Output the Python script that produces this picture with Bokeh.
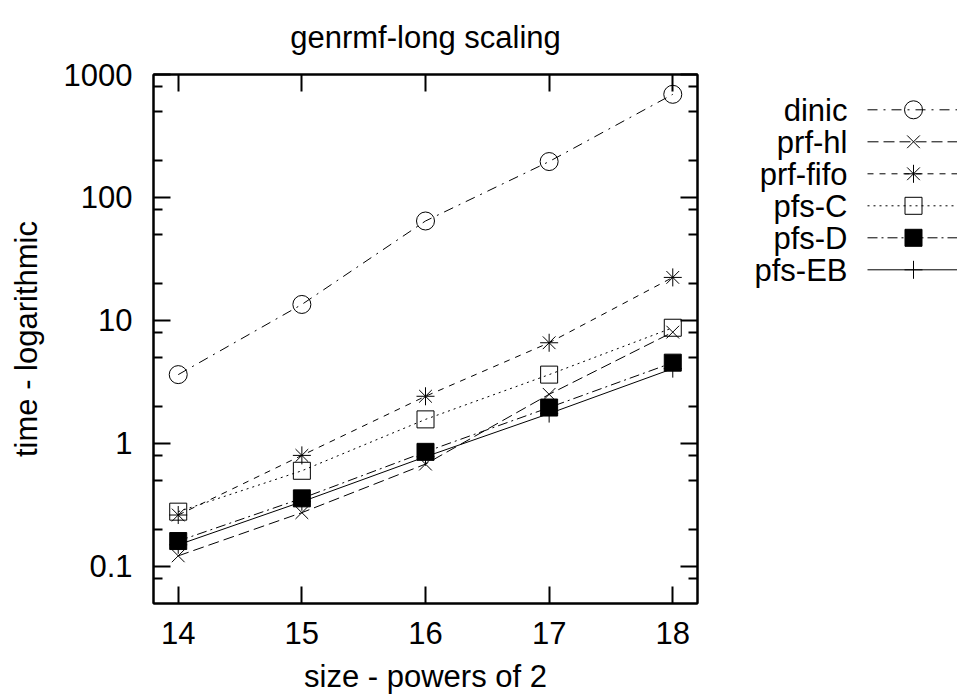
from bokeh.plotting import figure
from bokeh.models import Range1d, LogAxis, LinearAxis, FixedTicker, ColumnDataSource
from bokeh.layouts import row
from bokeh.core.properties import value
from bokeh.embed import file_html
from bokeh.resources import INLINE

# ---- data ----
sizes = [14, 15, 16, 17, 18]
dinic = [3.63, 13.5, 64.4, 196, 690]
prf_hl = [0.122, 0.274, 0.68, 2.51, 8.04]
prf_fifo = [0.262, 0.80, 2.42, 6.59, 22.4]
pfs_c = [0.279, 0.60, 1.57, 3.63, 8.73]
pfs_d = [0.161, 0.358, 0.855, 1.96, 4.54]
pfs_eb = [0.150, 0.336, 0.78, 1.75, 4.06]

series_names = ["dinic", "prf-hl", "prf-fifo", "pfs-C", "pfs-D", "pfs-EB"]
series_values = [dinic, prf_hl, prf_fifo, pfs_c, pfs_d, pfs_eb]

x_ticks = [14, 15, 16, 17, 18]
y_ticks = [0.1, 1, 10, 100, 1000]
y_tick_labels = ["0.1", "1", "10", "100", "1000"]
y_minor = [0.08, 0.2, 0.5, 0.8, 2, 5, 8, 20, 50, 80, 200, 500, 800]

title_text = "genrmf-long scaling"
x_label = "size - powers of 2"
y_label = "time - logarithmic"

# ---- styles ----
FONT = "Liberation Sans"
FS = "31px"
styles = [
    dict(dash="10 6 2 6", marker="circle", fill=None, size=18),
    dict(dash="11 5", marker="x", fill=None, size=18),
    dict(dash="6 6", marker="asterisk", fill=None, size=18),
    dict(dash="2 4", marker="square", fill=None, size=17),
    dict(dash="10 4 2 4", marker="square", fill="black", size=17),
    dict(dash="solid", marker="cross", fill=None, size=18),
]

TOP, BOTTOM, LEFT = 74, 96, 153

p = figure(width=720, height=699, y_axis_type="log",
           x_range=Range1d(13.8, 18.2), y_range=Range1d(0.05, 1000),
           output_backend="svg", toolbar_location=None,
           min_border_left=LEFT, min_border_right=23,
           min_border_top=TOP, min_border_bottom=BOTTOM)
p.background_fill_color = "white"
p.border_fill_color = "white"
p.grid.visible = False
p.outline_line_color = "black"
p.outline_line_width = 2

p.title.text = title_text
p.title.align = "center"
p.title.vertical_align = "top"
p.title.text_font = FONT
p.title.text_font_size = FS
p.title.text_font_style = "normal"
p.title.text_color = "black"
p.title.standoff = 36

yt = FixedTicker(ticks=y_ticks, minor_ticks=y_minor)
xt = FixedTicker(ticks=x_ticks, minor_ticks=[])
overrides = {t: l for t, l in zip(y_ticks, y_tick_labels)}

def style_axis(ax, labels=True):
    ax.axis_line_width = 2
    ax.axis_line_color = "black"
    ax.major_tick_in = 17
    ax.major_tick_out = 0
    ax.minor_tick_in = 9
    ax.minor_tick_out = 0
    ax.major_tick_line_width = 2
    ax.minor_tick_line_width = 2
    ax.major_label_text_font = FONT
    ax.major_label_text_font_size = FS if labels else "4px"
    ax.major_label_text_color = "black"
    if not labels:
        ax.major_label_text_alpha = 0
    ax.axis_label_text_font = FONT
    ax.axis_label_text_font_size = FS
    ax.axis_label_text_font_style = "normal"
    ax.axis_label_text_color = "black"

xa = p.xaxis[0]
xa.ticker = xt
style_axis(xa)
xa.major_label_standoff = 18
xa.axis_label = x_label
xa.axis_label_standoff = 12

ya = p.yaxis[0]
ya.ticker = yt
ya.major_label_overrides = overrides
style_axis(ya)
ya.major_label_standoff = 21
ya.axis_label = y_label
ya.axis_label_standoff = 17

ra = LogAxis(ticker=yt)
style_axis(ra, labels=False)
ra.major_label_standoff = 0
p.add_layout(ra, "right")

ta = LinearAxis(ticker=xt)
style_axis(ta, labels=False)
ta.major_label_standoff = 0
p.add_layout(ta, "above")

for vals, st in zip(series_values, styles):
    src = ColumnDataSource(dict(x=sizes, y=vals))
    p.line("x", "y", source=src, line_color="black", line_width=1, line_dash=st["dash"])
    p.scatter("x", "y", source=src, marker=st["marker"], size=st["size"],
              line_color="black", line_width=1,
              fill_color=st["fill"] if st["fill"] else None)

# ---- legend panel (text left of sample, as in reference); ranges in page pixels ----
leg = figure(width=237, height=699, x_range=Range1d(720, 957),
             y_range=Range1d(699 - BOTTOM, TOP),
             output_backend="svg", toolbar_location=None,
             x_axis_location=None, y_axis_location=None,
             min_border_left=0, min_border_right=0,
             min_border_top=TOP, min_border_bottom=BOTTOM)
leg.outline_line_color = None
leg.grid.visible = False
leg.background_fill_color = "white"
leg.border_fill_color = "white"

row0, row_gap = 109.3, 32.0
for i, (name, st) in enumerate(zip(series_names, styles)):
    yy = row0 + i * row_gap
    leg.text(x=[847], y=[yy + 1], text=[name], text_align="right", text_baseline="middle",
             text_font=value(FONT), text_font_size=FS, text_color="black")
    leg.line(x=[867, 960], y=[yy, yy], line_color="black", line_width=1, line_dash=st["dash"])
    leg.scatter(x=[913], y=[yy], marker=st["marker"], size=st["size"],
                line_color="black", line_width=1,
                fill_color=st["fill"] if st["fill"] else None)

layout = row(p, leg)
open("out.html", "w").write(file_html(layout, INLINE))
